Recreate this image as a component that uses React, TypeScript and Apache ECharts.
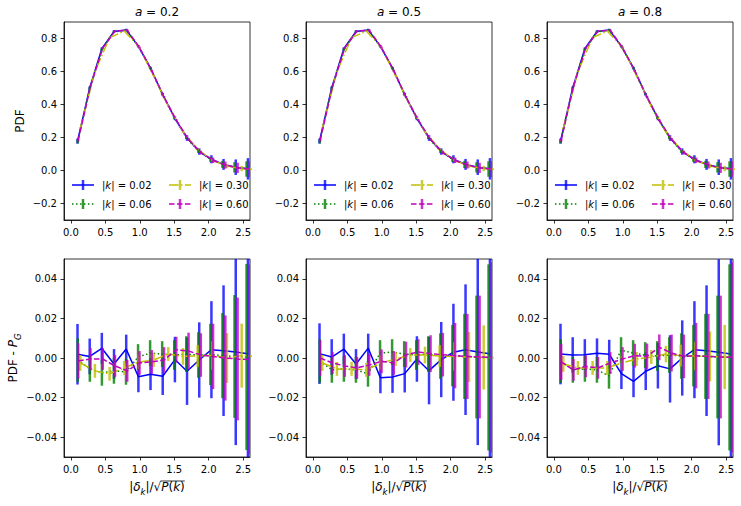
import React, { useEffect, useRef } from "react";
import * as echarts from "echarts";

// ---------- data ----------
const PANEL_A = ["0.2", "0.5", "0.8"];
const K_LABELS = ["0.02", "0.06", "0.30", "0.60"];
const X_TICKS = [0, 0.5, 1, 1.5, 2, 2.5];
const PDF_TICKS = [-0.2, 0, 0.2, 0.4, 0.6, 0.8];
const DIFF_TICKS = [-0.04, -0.02, 0, 0.02, 0.04];

// bin centres |delta_k| / sqrt(P(k)) for each |k|
const X_K002 = [0.096, 0.273, 0.449, 0.626, 0.803, 0.98, 1.156, 1.333, 1.51, 1.686, 1.863, 2.04, 2.216, 2.393, 2.57];
const X_K006 = [0.1, 0.275, 0.45, 0.625, 0.8, 0.975, 1.15, 1.325, 1.5, 1.675, 1.85, 2.025, 2.2, 2.375, 2.55];
const X_K030 = [0.136, 0.349, 0.562, 0.775, 0.988, 1.201, 1.414, 1.627, 1.84, 2.053, 2.266, 2.479, 2.692];
const X_K060 = [0.106, 0.284, 0.462, 0.64, 0.818, 0.996, 1.174, 1.352, 1.53, 1.708, 1.886, 2.064, 2.242, 2.42, 2.598];

// measured PDF (top row)
const PDF_K002 = [0.178, 0.5, 0.738, 0.843, 0.852, 0.752, 0.62, 0.46, 0.316, 0.197, 0.115, 0.068, 0.037, 0.02, 0.01];
const PDF_K006 = [0.176, 0.497, 0.733, 0.84, 0.85, 0.755, 0.623, 0.465, 0.32, 0.2, 0.118, 0.068, 0.037, 0.019, 0.009];
const PDF_K030 = [0.255, 0.6, 0.805, 0.845, 0.75, 0.575, 0.39, 0.235, 0.128, 0.063, 0.028, 0.012, 0.005];
const PDF_K060 = [0.185, 0.51, 0.742, 0.845, 0.85, 0.745, 0.605, 0.445, 0.305, 0.188, 0.109, 0.062, 0.033, 0.016, 0.008];

// error bars (half-length)
const ERR_K002 = [0.0153, 0.009, 0.0078, 0.0075, 0.0073, 0.0078, 0.008, 0.0095, 0.0115, 0.017, 0.019, 0.0245, 0.033, 0.047, 0.065];
const ERR_K006 = [0.011, 0.0065, 0.0065, 0.0065, 0.0065, 0.0065, 0.0065, 0.0065, 0.0075, 0.009, 0.0115, 0.0155, 0.0215, 0.031, 0.047];
const ERR_K030 = [0.004, 0.0035, 0.0035, 0.0035, 0.0035, 0.0035, 0.0035, 0.0042, 0.0055, 0.0072, 0.0126, 0.0162, 0.022];
const ERR_K060 = [0.009, 0.0055, 0.0055, 0.0055, 0.0055, 0.006, 0.006, 0.0065, 0.0065, 0.0093, 0.011, 0.0165, 0.0215, 0.031, 0.048];

// PDF - P_G (bottom row)
const DIFF_A02_K002 = [0.0019, 0.0008, 0.0049, -0.003, 0.0045, -0.0095, -0.0082, -0.0092, -0.0008, -0.0067, -0.001, 0.0042, 0.0037, 0.003, 0.0022];
const DIFF_A02_K006 = [-0.001, -0.0055, -0.0075, -0.0065, -0.007, 0.0005, 0.0025, 0.002, 0.0015, 0.002, 0.0015, 0.0018, 0.0012, 0.0008, 0.0005];
const DIFF_A02_K030 = [-0.0025, -0.0065, -0.008, -0.005, -0.002, -0.001, 0.002, 0.0008, 0.001, 0.0013, 0.0, 0.0012, 0.0008];
const DIFF_A02_K060 = [-0.0015, -0.0005, -0.0005, -0.004, -0.0065, -0.0025, -0.002, -0.001, 0.0042, 0.0035, 0.0015, 0.0008, 0.0, -0.0005, -0.0008];

const DIFF_A05_K002 = [0.0022, 0.0005, 0.0045, -0.003, 0.005, -0.01, -0.0096, -0.0079, -0.0005, -0.0064, -0.0008, 0.0029, 0.0042, 0.003, 0.0022];
const DIFF_A05_K006 = [-0.0015, -0.006, -0.0055, -0.006, -0.008, 0.0025, 0.003, 0.002, 0.0015, 0.002, 0.001, 0.0012, 0.0008, 0.0005, 0.0003];
const DIFF_A05_K030 = [-0.0025, -0.0055, -0.0055, -0.006, -0.0025, -0.0005, 0.0015, 0.0015, 0.001, 0.0008, 0.0005, 0.0003, 0.0];
const DIFF_A05_K060 = [0.0, -0.0025, -0.004, -0.005, -0.0035, -0.0017, -0.0025, 0.0017, 0.003, 0.0022, 0.0017, 0.0012, 0.0008, 0.0005, 0.0003];

const DIFF_A08_K002 = [0.002, 0.0015, 0.0017, 0.0024, 0.0019, -0.0079, -0.0118, -0.0067, -0.0039, -0.0055, 0.0, 0.0042, 0.0037, 0.0029, 0.002];
const DIFF_A08_K006 = [-0.0015, -0.006, -0.0055, -0.006, -0.009, 0.004, 0.0025, 0.0015, 0.001, 0.0015, 0.001, 0.0012, 0.0008, 0.0005, 0.0003];
const DIFF_A08_K030 = [-0.003, -0.005, -0.005, -0.005, -0.0025, -0.0005, 0.0005, 0.002, 0.0012, 0.001, 0.0008, 0.0005, 0.0003];
const DIFF_A08_K060 = [-0.002, -0.006, -0.0042, -0.005, -0.0025, -0.0005, 0.0012, 0.0008, 0.0054, 0.0025, 0.0008, 0.0012, 0.0008, 0.0005, 0.0003];

const SERIES_X = [X_K002, X_K006, X_K030, X_K060];
const SERIES_PDF = [PDF_K002, PDF_K006, PDF_K030, PDF_K060];
const SERIES_ERR = [ERR_K002, ERR_K006, ERR_K030, ERR_K060];
const SERIES_DIFF = [
  [DIFF_A02_K002, DIFF_A02_K006, DIFF_A02_K030, DIFF_A02_K060],
  [DIFF_A05_K002, DIFF_A05_K006, DIFF_A05_K030, DIFF_A05_K060],
  [DIFF_A08_K002, DIFF_A08_K006, DIFF_A08_K030, DIFF_A08_K060],
];

// ---------- styles ----------
const FONT = "DejaVu Sans";
const LINE_COLORS = ["#0000ff", "#008000", "#bfbf00", "#bf00bf"];
const BAR_COLORS = ["rgba(0,0,255,0.78)", "rgba(0,128,0,0.8)", "rgba(191,191,0,0.8)", "rgba(191,0,191,0.8)"];
const DASHES: any[] = ["solid", [1.5, 2.475], [9.6, 2.4, 1.5, 2.4], [5.55, 2.4]];
const CANVAS_DASH: any[] = [null, [1.5, 2.475], [9.6, 2.4, 1.5, 2.4], [5.55, 2.4]];
const GRID_LEFTS = [64, 306, 547];
const ROW_TOPS = [22, 259];
const GRID_W = 186;
const GRID_H = 198;

function fmt(d: number) {
  return (v: number) => {
    const s = Math.abs(v).toFixed(d);
    return v < -1e-9 ? "\u2212" + s : s;
  };
}

function measure(s: string, size: number, italic = false) {
  const c = document.createElement("canvas").getContext("2d")!;
  c.font = `${italic ? "italic " : ""}${size}px "${FONT}"`;
  return c.measureText(s).width;
}

function buildOption() {
  const grid: any[] = [];
  const xAxis: any[] = [];
  const yAxis: any[] = [];
  const series: any[] = [];
  const graphic: any[] = [];

  const mathRich = {
    i: { fontStyle: "italic", fontSize: 12, fontFamily: FONT, color: "#000", lineHeight: 18 },
    s: { fontStyle: "italic", fontSize: 8.5, fontFamily: FONT, color: "#000", lineHeight: 11, verticalAlign: "bottom" },
  };

  for (let r = 0; r < 2; r++) {
    for (let c = 0; c < 3; c++) {
      const idx = r * 3 + c;
      grid.push({
        left: GRID_LEFTS[c], top: ROW_TOPS[r], width: GRID_W, height: GRID_H,
        show: true, borderColor: "#000", borderWidth: 0.8, backgroundColor: "transparent",
      });
      const bottom = r === 1;
      xAxis.push({
        type: "value", gridIndex: idx, min: -0.1, max: 2.6,
        axisLine: { show: true, onZero: false, lineStyle: { color: "#000", width: 0.8 } },
        axisTick: { show: true, inside: false, length: 3.5, lineStyle: { color: "#000", width: 0.8 }, customValues: X_TICKS },
        axisLabel: { customValues: X_TICKS, formatter: fmt(1), margin: 7, fontSize: 10, fontFamily: FONT, color: "#000" },
        splitLine: { show: false },
        name: bottom ? "|{i|δ}{s|k}|/√{i|P}({i|k})" : "",
        nameLocation: "middle",
        nameGap: 21,
        nameTextStyle: { fontSize: 12, fontFamily: FONT, color: "#000", lineHeight: 18, rich: mathRich },
      });
      yAxis.push({
        type: "value", gridIndex: idx,
        min: bottom ? -0.05 : -0.3, max: bottom ? 0.05 : 0.9,
        axisLine: { show: true, onZero: false, lineStyle: { color: "#000", width: 0.8 } },
        axisTick: { show: true, inside: false, length: 3.5, lineStyle: { color: "#000", width: 0.8 }, customValues: bottom ? DIFF_TICKS : PDF_TICKS },
        axisLabel: { customValues: bottom ? DIFF_TICKS : PDF_TICKS, formatter: fmt(bottom ? 2 : 1), margin: 7, fontSize: 10, fontFamily: FONT, color: "#000" },
        splitLine: { show: false },
        name: c === 0 ? (bottom ? "PDF - {i|P}{s|G}" : "PDF") : "",
        nameLocation: "middle",
        nameRotate: 90,
        nameGap: bottom ? 39 : 33,
        nameTextStyle: { fontSize: 12, fontFamily: FONT, color: "#000", lineHeight: 18, rich: mathRich },
      });

      for (let s = 0; s < 4; s++) {
        const xs = SERIES_X[s];
        const ys = bottom ? SERIES_DIFF[c][s] : SERIES_PDF[s];
        const errs = SERIES_ERR[s];
        const barColor = BAR_COLORS[s];
        series.push({
          type: "custom",
          name: "|k| = " + K_LABELS[s],
          xAxisIndex: idx, yAxisIndex: idx,
          data: xs.map((x, i) => [x, ys[i], errs[i]]),
          encode: { x: 0, y: 1 },
          clip: true, silent: true, z: 2 + 2 * s,
          renderItem: (params: any, api: any) => {
            const x = api.value(0), y = api.value(1), e = api.value(2);
            const p1 = api.coord([x, y - e]);
            const p2 = api.coord([x, y + e]);
            return {
              type: "line",
              shape: { x1: p1[0], y1: p1[1], x2: p2[0], y2: p2[1] },
              style: { stroke: barColor, lineWidth: 2.5 },
            };
          },
        });
        series.push({
          type: "line",
          name: "|k| = " + K_LABELS[s],
          xAxisIndex: idx, yAxisIndex: idx,
          data: xs.map((x, i) => [x, ys[i]]),
          symbol: "none", clip: true, silent: true, z: 3 + 2 * s,
          lineStyle: { color: LINE_COLORS[s], width: 1.5, type: DASHES[s] },
        });
      }
    }
  }

  // titles
  PANEL_A.forEach((a, c) => {
    graphic.push({
      type: "text", x: GRID_LEFTS[c] + GRID_W / 2, y: 12, z: 100,
      style: {
        text: "{i|a} = " + a, fontSize: 12, fontFamily: FONT, fill: "#000",
        align: "center", verticalAlign: "middle",
        rich: { i: { fontStyle: "italic", fontSize: 12, fontFamily: FONT, fill: "#000" } },
      },
    });
  });

  // legends in top panels
  const slots = [
    { s: 0, col: 0, row: 0 }, { s: 1, col: 0, row: 1 },
    { s: 2, col: 1, row: 0 }, { s: 3, col: 1, row: 1 },
  ];
  GRID_LEFTS.forEach((L) => {
    slots.forEach(({ s, col, row }) => {
      const x0 = L + (col === 0 ? 8 : 105);
      const y0 = row === 0 ? 185 : 204;
      graphic.push({
        type: "line", z: 100,
        shape: { x1: x0, y1: y0, x2: x0 + 22, y2: y0 },
        style: { stroke: LINE_COLORS[s], lineWidth: 1.5, lineDash: CANVAS_DASH[s] },
      });
      graphic.push({
        type: "line", z: 100,
        shape: { x1: x0 + 11, y1: y0 - 5, x2: x0 + 11, y2: y0 + 5 },
        style: { stroke: BAR_COLORS[s], lineWidth: 2.5 },
      });
      graphic.push({
        type: "text", x: x0 + 30, y: y0, z: 100,
        style: {
          text: "|{i|k}| = " + K_LABELS[s], fontSize: 10, fontFamily: FONT, fill: "#000",
          verticalAlign: "middle",
          rich: { i: { fontStyle: "italic", fontSize: 10, fontFamily: FONT, fill: "#000" } },
        },
      });
    });
  });

  // overline of the square root in the x label
  const pre = measure("|", 12) + measure("δ", 12, true) + measure("k", 8.5, true) + measure("|/√", 12);
  const total = pre + measure("P", 12, true) + measure("(", 12) + measure("k", 12, true) + measure(")", 12);
  GRID_LEFTS.forEach((L) => {
    const cx = L + GRID_W / 2;
    graphic.push({
      type: "line", z: 100,
      shape: { x1: cx - total / 2 + pre - 0.8, y1: 481, x2: cx + total / 2, y2: 481 },
      style: { stroke: "#000", lineWidth: 0.8 },
    });
  });

  return { animation: false, backgroundColor: "#fff", grid, xAxis, yAxis, series, graphic };
}

export default function App() {
  const ref = useRef<HTMLDivElement>(null);
  useEffect(() => {
    const chart = echarts.init(ref.current!, null, { renderer: "svg" });
    chart.setOption(buildOption() as any);
    return () => chart.dispose();
  }, []);
  return (
    <div
      ref={ref}
      style={{ position: "fixed", left: 0, top: 0, width: 741, height: 506, background: "#fff" }}
    />
  );
}
